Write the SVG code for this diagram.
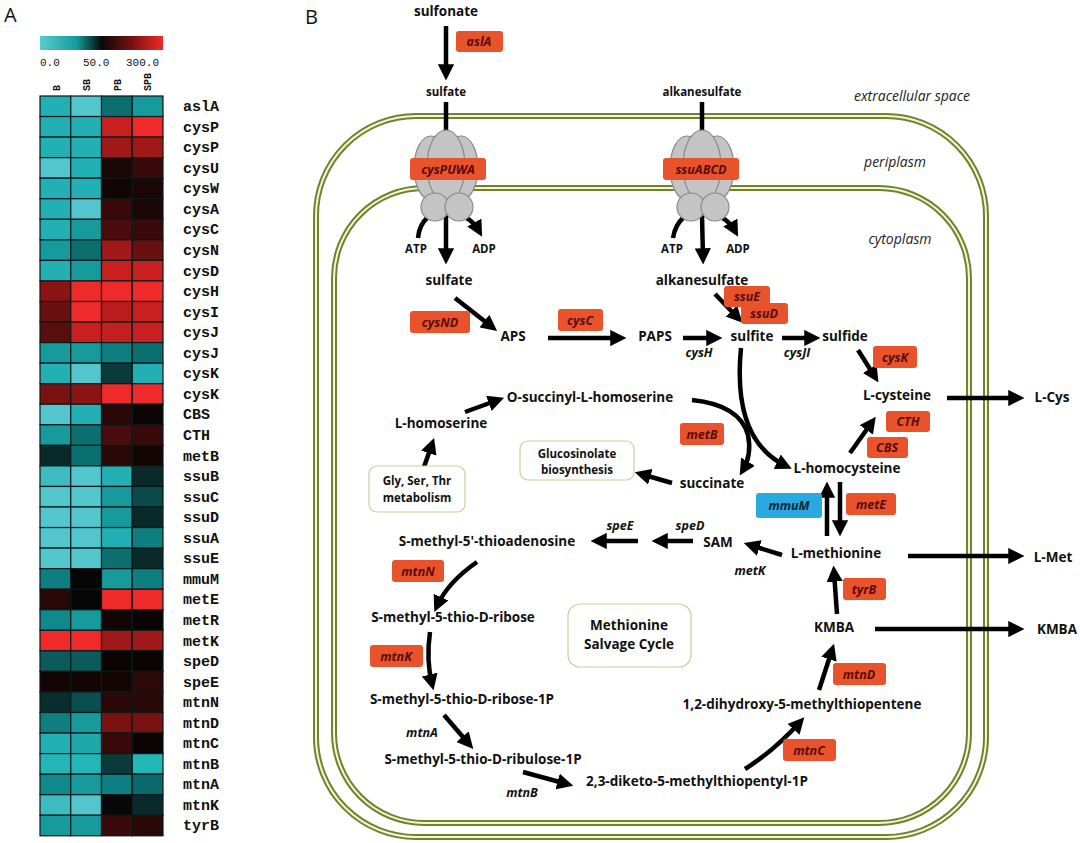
<svg xmlns="http://www.w3.org/2000/svg" width="1080" height="843" viewBox="0 0 1080 843">
<style>
text{font-family:"Open Sans","Liberation Sans",sans-serif;fill:#111}
.m{font-weight:bold;font-size:13.5px;text-anchor:middle}
.s{font-weight:bold;font-size:11.5px;text-anchor:middle}
.g{font-weight:bold;font-style:italic;font-size:12.5px;text-anchor:middle;fill:#5a0c0c}
.gi{font-weight:bold;font-style:italic;font-size:12.5px;text-anchor:middle}
.cmp{font-style:italic;font-size:14px;text-anchor:middle;fill:#222}
.gb{fill:#e8532b;rx:3}
.hl{font-family:"Liberation Mono","DejaVu Sans Mono",monospace;font-weight:bold;font-size:15px;fill:#111}
.cl{font-family:"Liberation Mono",monospace;font-size:11px;fill:#111}
.cc{font-family:"Liberation Mono",monospace;font-size:10px;font-weight:bold;fill:#111}
.a{stroke:#000;stroke-width:4.5;fill:none;marker-end:url(#ah)}
.box{fill:#fff;stroke:#c8cf9a;stroke-width:1.2}
.mo{fill:none;stroke:#6f8230;stroke-width:6}
.mi{fill:none;stroke:#f4f6cf;stroke-width:2}
.tp{fill:#c4c4c4;stroke:#8a8a8a;stroke-width:1.2}
</style>
<defs>
<marker id="ah" viewBox="0 0 10 10" refX="6" refY="5" markerWidth="3.6" markerHeight="3.6" orient="auto" markerUnits="strokeWidth"><path d="M0,0 L10,5 L0,10 z" fill="#000"/></marker>
<linearGradient id="cb" x1="0" x2="1"><stop offset="0" stop-color="#5acbd0"/><stop offset="0.3" stop-color="#139a9c"/><stop offset="0.5" stop-color="#0a0a0a"/><stop offset="0.75" stop-color="#7a1010"/><stop offset="1" stop-color="#f02a2a"/></linearGradient>
</defs>
<rect width="1080" height="843" fill="#fff"/>
<g id="panelA">
<text x="4" y="22" font-size="20">A</text>
<rect x="40" y="36" width="123" height="14" fill="url(#cb)"/>
<text class="cl" x="40" y="66">0.0</text><text class="cl" x="83" y="66">50.0</text><text class="cl" x="126" y="66">300.0</text>
<text class="cc" transform="translate(60,91) rotate(-90)">B</text>
<text class="cc" transform="translate(90,91) rotate(-90)">SB</text>
<text class="cc" transform="translate(121,91) rotate(-90)">PB</text>
<text class="cc" transform="translate(151,91) rotate(-90)">SPB</text>
<rect x="40" y="96" width="123" height="740" fill="#111"/>
</g>
<g id="hmrows" stroke="#0a1a1a" stroke-width="1.2">
<g transform="translate(0,96)"><rect x="40" width="30.75" height="20.55" fill="#22b0b4"/><rect x="70.75" width="30.75" height="20.55" fill="#52c6cc"/><rect x="101.5" width="30.75" height="20.55" fill="#0b6f70"/><rect x="132.25" width="30.75" height="20.55" fill="#169a9c"/></g>
<g transform="translate(0,116.55)"><rect x="40" width="30.75" height="20.55" fill="#22b0b4"/><rect x="70.75" width="30.75" height="20.55" fill="#22b0b4"/><rect x="101.5" width="30.75" height="20.55" fill="#c82020"/><rect x="132.25" width="30.75" height="20.55" fill="#ee2a2a"/></g>
<g transform="translate(0,137.1)"><rect x="40" width="30.75" height="20.55" fill="#22b0b4"/><rect x="70.75" width="30.75" height="20.55" fill="#22b0b4"/><rect x="101.5" width="30.75" height="20.55" fill="#a01818"/><rect x="132.25" width="30.75" height="20.55" fill="#a01818"/></g>
<g transform="translate(0,157.65)"><rect x="40" width="30.75" height="20.55" fill="#52c6cc"/><rect x="70.75" width="30.75" height="20.55" fill="#22b0b4"/><rect x="101.5" width="30.75" height="20.55" fill="#1a0606"/><rect x="132.25" width="30.75" height="20.55" fill="#3a0a0a"/></g>
<g transform="translate(0,178.2)"><rect x="40" width="30.75" height="20.55" fill="#22b0b4"/><rect x="70.75" width="30.75" height="20.55" fill="#22b0b4"/><rect x="101.5" width="30.75" height="20.55" fill="#140505"/><rect x="132.25" width="30.75" height="20.55" fill="#1a0606"/></g>
<g transform="translate(0,198.75)"><rect x="40" width="30.75" height="20.55" fill="#22b0b4"/><rect x="70.75" width="30.75" height="20.55" fill="#52c6cc"/><rect x="101.5" width="30.75" height="20.55" fill="#3a0a0a"/><rect x="132.25" width="30.75" height="20.55" fill="#1a0606"/></g>
<g transform="translate(0,219.3)"><rect x="40" width="30.75" height="20.55" fill="#22b0b4"/><rect x="70.75" width="30.75" height="20.55" fill="#169a9c"/><rect x="101.5" width="30.75" height="20.55" fill="#4a0c0c"/><rect x="132.25" width="30.75" height="20.55" fill="#3a0a0a"/></g>
<g transform="translate(0,239.85)"><rect x="40" width="30.75" height="20.55" fill="#169a9c"/><rect x="70.75" width="30.75" height="20.55" fill="#0b6f70"/><rect x="101.5" width="30.75" height="20.55" fill="#a01818"/><rect x="132.25" width="30.75" height="20.55" fill="#6a1010"/></g>
<g transform="translate(0,260.4)"><rect x="40" width="30.75" height="20.55" fill="#22b0b4"/><rect x="70.75" width="30.75" height="20.55" fill="#169a9c"/><rect x="101.5" width="30.75" height="20.55" fill="#c82020"/><rect x="132.25" width="30.75" height="20.55" fill="#c82020"/></g>
<g transform="translate(0,280.95)"><rect x="40" width="30.75" height="20.55" fill="#8a1414"/><rect x="70.75" width="30.75" height="20.55" fill="#ee2a2a"/><rect x="101.5" width="30.75" height="20.55" fill="#ee2a2a"/><rect x="132.25" width="30.75" height="20.55" fill="#ee2a2a"/></g>
<g transform="translate(0,301.5)"><rect x="40" width="30.75" height="20.55" fill="#6a1010"/><rect x="70.75" width="30.75" height="20.55" fill="#ee2a2a"/><rect x="101.5" width="30.75" height="20.55" fill="#b81c1c"/><rect x="132.25" width="30.75" height="20.55" fill="#c82020"/></g>
<g transform="translate(0,322.05)"><rect x="40" width="30.75" height="20.55" fill="#5a0e0e"/><rect x="70.75" width="30.75" height="20.55" fill="#c82020"/><rect x="101.5" width="30.75" height="20.55" fill="#c02020"/><rect x="132.25" width="30.75" height="20.55" fill="#c82020"/></g>
<g transform="translate(0,342.6)"><rect x="40" width="30.75" height="20.55" fill="#169a9c"/><rect x="70.75" width="30.75" height="20.55" fill="#169a9c"/><rect x="101.5" width="30.75" height="20.55" fill="#0e7e80"/><rect x="132.25" width="30.75" height="20.55" fill="#0b6f70"/></g>
<g transform="translate(0,363.15)"><rect x="40" width="30.75" height="20.55" fill="#22b0b4"/><rect x="70.75" width="30.75" height="20.55" fill="#52c6cc"/><rect x="101.5" width="30.75" height="20.55" fill="#0a3a3a"/><rect x="132.25" width="30.75" height="20.55" fill="#22b0b4"/></g>
<g transform="translate(0,383.7)"><rect x="40" width="30.75" height="20.55" fill="#7a1212"/><rect x="70.75" width="30.75" height="20.55" fill="#8a1414"/><rect x="101.5" width="30.75" height="20.55" fill="#ee2a2a"/><rect x="132.25" width="30.75" height="20.55" fill="#ee2a2a"/></g>
<g transform="translate(0,404.25)"><rect x="40" width="30.75" height="20.55" fill="#52c6cc"/><rect x="70.75" width="30.75" height="20.55" fill="#22b0b4"/><rect x="101.5" width="30.75" height="20.55" fill="#2a0808"/><rect x="132.25" width="30.75" height="20.55" fill="#100505"/></g>
<g transform="translate(0,424.8)"><rect x="40" width="30.75" height="20.55" fill="#169a9c"/><rect x="70.75" width="30.75" height="20.55" fill="#0b6f70"/><rect x="101.5" width="30.75" height="20.55" fill="#4a0c0c"/><rect x="132.25" width="30.75" height="20.55" fill="#3a0a0a"/></g>
<g transform="translate(0,445.35)"><rect x="40" width="30.75" height="20.55" fill="#0a2a2a"/><rect x="70.75" width="30.75" height="20.55" fill="#0b6f70"/><rect x="101.5" width="30.75" height="20.55" fill="#2a0808"/><rect x="132.25" width="30.75" height="20.55" fill="#140505"/></g>
<g transform="translate(0,465.9)"><rect x="40" width="30.75" height="20.55" fill="#3cbcc0"/><rect x="70.75" width="30.75" height="20.55" fill="#52c6cc"/><rect x="101.5" width="30.75" height="20.55" fill="#22b0b4"/><rect x="132.25" width="30.75" height="20.55" fill="#0a2a2a"/></g>
<g transform="translate(0,486.45)"><rect x="40" width="30.75" height="20.55" fill="#52c6cc"/><rect x="70.75" width="30.75" height="20.55" fill="#52c6cc"/><rect x="101.5" width="30.75" height="20.55" fill="#169a9c"/><rect x="132.25" width="30.75" height="20.55" fill="#0b4a4a"/></g>
<g transform="translate(0,507)"><rect x="40" width="30.75" height="20.55" fill="#52c6cc"/><rect x="70.75" width="30.75" height="20.55" fill="#52c6cc"/><rect x="101.5" width="30.75" height="20.55" fill="#169a9c"/><rect x="132.25" width="30.75" height="20.55" fill="#0a2a2a"/></g>
<g transform="translate(0,527.55)"><rect x="40" width="30.75" height="20.55" fill="#52c6cc"/><rect x="70.75" width="30.75" height="20.55" fill="#52c6cc"/><rect x="101.5" width="30.75" height="20.55" fill="#22b0b4"/><rect x="132.25" width="30.75" height="20.55" fill="#0e7e80"/></g>
<g transform="translate(0,548.1)"><rect x="40" width="30.75" height="20.55" fill="#52c6cc"/><rect x="70.75" width="30.75" height="20.55" fill="#52c6cc"/><rect x="101.5" width="30.75" height="20.55" fill="#0b6f70"/><rect x="132.25" width="30.75" height="20.55" fill="#0a2a2a"/></g>
<g transform="translate(0,568.65)"><rect x="40" width="30.75" height="20.55" fill="#0e7e80"/><rect x="70.75" width="30.75" height="20.55" fill="#050505"/><rect x="101.5" width="30.75" height="20.55" fill="#169a9c"/><rect x="132.25" width="30.75" height="20.55" fill="#0e7e80"/></g>
<g transform="translate(0,589.2)"><rect x="40" width="30.75" height="20.55" fill="#2a0808"/><rect x="70.75" width="30.75" height="20.55" fill="#050505"/><rect x="101.5" width="30.75" height="20.55" fill="#ee2a2a"/><rect x="132.25" width="30.75" height="20.55" fill="#ee2a2a"/></g>
<g transform="translate(0,609.75)"><rect x="40" width="30.75" height="20.55" fill="#0e8a8c"/><rect x="70.75" width="30.75" height="20.55" fill="#169a9c"/><rect x="101.5" width="30.75" height="20.55" fill="#140505"/><rect x="132.25" width="30.75" height="20.55" fill="#0c0404"/></g>
<g transform="translate(0,630.3)"><rect x="40" width="30.75" height="20.55" fill="#ee2a2a"/><rect x="70.75" width="30.75" height="20.55" fill="#ee2a2a"/><rect x="101.5" width="30.75" height="20.55" fill="#a01818"/><rect x="132.25" width="30.75" height="20.55" fill="#a01818"/></g>
<g transform="translate(0,650.85)"><rect x="40" width="30.75" height="20.55" fill="#0b5a5c"/><rect x="70.75" width="30.75" height="20.55" fill="#0b5a5c"/><rect x="101.5" width="30.75" height="20.55" fill="#0c0404"/><rect x="132.25" width="30.75" height="20.55" fill="#0c0404"/></g>
<g transform="translate(0,671.4)"><rect x="40" width="30.75" height="20.55" fill="#140505"/><rect x="70.75" width="30.75" height="20.55" fill="#140505"/><rect x="101.5" width="30.75" height="20.55" fill="#140505"/><rect x="132.25" width="30.75" height="20.55" fill="#2e0909"/></g>
<g transform="translate(0,691.95)"><rect x="40" width="30.75" height="20.55" fill="#0a2e2e"/><rect x="70.75" width="30.75" height="20.55" fill="#0b4e50"/><rect x="101.5" width="30.75" height="20.55" fill="#2a0808"/><rect x="132.25" width="30.75" height="20.55" fill="#2a0808"/></g>
<g transform="translate(0,712.5)"><rect x="40" width="30.75" height="20.55" fill="#0e7e80"/><rect x="70.75" width="30.75" height="20.55" fill="#169a9c"/><rect x="101.5" width="30.75" height="20.55" fill="#7a1212"/><rect x="132.25" width="30.75" height="20.55" fill="#7a1212"/></g>
<g transform="translate(0,733.05)"><rect x="40" width="30.75" height="20.55" fill="#22b0b4"/><rect x="70.75" width="30.75" height="20.55" fill="#1fa8aa"/><rect x="101.5" width="30.75" height="20.55" fill="#3a0a0a"/><rect x="132.25" width="30.75" height="20.55" fill="#0c0404"/></g>
<g transform="translate(0,753.6)"><rect x="40" width="30.75" height="20.55" fill="#22b6b8"/><rect x="70.75" width="30.75" height="20.55" fill="#22b6b8"/><rect x="101.5" width="30.75" height="20.55" fill="#0a3a3a"/><rect x="132.25" width="30.75" height="20.55" fill="#22b6b8"/></g>
<g transform="translate(0,774.15)"><rect x="40" width="30.75" height="20.55" fill="#0e8a8c"/><rect x="70.75" width="30.75" height="20.55" fill="#169a9c"/><rect x="101.5" width="30.75" height="20.55" fill="#0e7e80"/><rect x="132.25" width="30.75" height="20.55" fill="#0b6a6c"/></g>
<g transform="translate(0,794.7)"><rect x="40" width="30.75" height="20.55" fill="#3cbcc0"/><rect x="70.75" width="30.75" height="20.55" fill="#52c6cc"/><rect x="101.5" width="30.75" height="20.55" fill="#070707"/><rect x="132.25" width="30.75" height="20.55" fill="#0a2a2a"/></g>
<g transform="translate(0,815.25)"><rect x="40" width="30.75" height="20.55" fill="#169a9c"/><rect x="70.75" width="30.75" height="20.55" fill="#169a9c"/><rect x="101.5" width="30.75" height="20.55" fill="#3a0a0a"/><rect x="132.25" width="30.75" height="20.55" fill="#2a0808"/></g>
</g>
<g id="hmlabels">
<text class="hl" x="183" y="111">aslA</text><text class="hl" x="183" y="132">cysP</text><text class="hl" x="183" y="152">cysP</text><text class="hl" x="183" y="173">cysU</text><text class="hl" x="183" y="193">cysW</text><text class="hl" x="183" y="214">cysA</text><text class="hl" x="183" y="234">cysC</text><text class="hl" x="183" y="255">cysN</text><text class="hl" x="183" y="276">cysD</text><text class="hl" x="183" y="296">cysH</text><text class="hl" x="183" y="317">cysI</text><text class="hl" x="183" y="337">cysJ</text><text class="hl" x="183" y="358">cysJ</text><text class="hl" x="183" y="378">cysK</text><text class="hl" x="183" y="399">cysK</text><text class="hl" x="183" y="419">CBS</text><text class="hl" x="183" y="440">CTH</text><text class="hl" x="183" y="461">metB</text><text class="hl" x="183" y="481">ssuB</text><text class="hl" x="183" y="502">ssuC</text><text class="hl" x="183" y="522">ssuD</text><text class="hl" x="183" y="543">ssuA</text><text class="hl" x="183" y="563">ssuE</text><text class="hl" x="183" y="584">mmuM</text><text class="hl" x="183" y="604">metE</text><text class="hl" x="183" y="625">metR</text><text class="hl" x="183" y="646">metK</text><text class="hl" x="183" y="666">speD</text><text class="hl" x="183" y="687">speE</text><text class="hl" x="183" y="707">mtnN</text><text class="hl" x="183" y="728">mtnD</text><text class="hl" x="183" y="748">mtnC</text><text class="hl" x="183" y="769">mtnB</text><text class="hl" x="183" y="789">mtnA</text><text class="hl" x="183" y="810">mtnK</text><text class="hl" x="183" y="830">tyrB</text>
</g>
<text x="305" y="24" font-size="20">B</text>
<g id="membranes">
<rect class="mo" x="316" y="116" width="670" height="721" rx="100"/>
<rect class="mi" x="316" y="116" width="670" height="721" rx="100"/>
<rect class="mo" x="334" y="188" width="635" height="635" rx="90"/>
<rect class="mi" x="334" y="188" width="635" height="635" rx="90"/>
</g>
<text class="cmp" x="912" y="101">extracellular space</text>
<text class="cmp" x="895" y="167">periplasm</text>
<text class="cmp" x="900" y="244">cytoplasm</text>
<g id="connectors">
<line class="a" x1="446" y1="26" x2="446" y2="74"/>
<line x1="446" y1="102" x2="446" y2="135" stroke="#000" stroke-width="4.5"/>
<line x1="702" y1="102" x2="702" y2="135" stroke="#000" stroke-width="4.5"/>
<path d="M428,217 Q419,225 418,238" stroke="#000" stroke-width="4.5" fill="none"/>
<path class="a" d="M465,217 Q474,222 479,231"/>
<line class="a" x1="446" y1="215" x2="446" y2="258"/>
<path d="M684,217 Q675,225 673,238" stroke="#000" stroke-width="4.5" fill="none"/>
<path class="a" d="M721,217 Q730,222 735,231"/>
<line class="a" x1="702" y1="215" x2="703" y2="258"/>
<line class="a" x1="455" y1="298" x2="492" y2="327"/>
<line class="a" x1="548" y1="338" x2="620" y2="338"/>
<line class="a" x1="683" y1="338" x2="716" y2="338"/>
<line class="a" x1="715" y1="294" x2="738" y2="318"/>
<line class="a" x1="782" y1="338" x2="814" y2="338"/>
<line class="a" x1="858" y1="350" x2="875" y2="377"/>
<line class="a" x1="947" y1="398" x2="1018" y2="398"/>
<line class="a" x1="850" y1="453" x2="872" y2="422"/>
<path class="a" d="M741,348 Q732,440 786,466"/>
<path class="a" d="M692,400 Q740,405 748,435 Q752,455 743,470"/>
<line class="a" x1="672" y1="483" x2="641" y2="474"/>
<line class="a" x1="424" y1="467" x2="432" y2="444"/>
<line class="a" x1="465" y1="412" x2="498" y2="400"/>
<line class="a" x1="827" y1="536" x2="827" y2="488"/>
<line class="a" x1="840" y1="482" x2="840" y2="530"/>
<line class="a" x1="782" y1="555" x2="750" y2="545"/>
<line class="a" x1="908" y1="556" x2="1018" y2="556"/>
<line class="a" x1="693" y1="541" x2="658" y2="541"/>
<line class="a" x1="638" y1="541" x2="597" y2="541"/>
<path class="a" d="M477,562 Q448,582 437,606"/>
<path class="a" d="M430,632 Q426,660 432,684"/>
<line class="a" x1="444" y1="715" x2="469" y2="744"/>
<line class="a" x1="523" y1="772" x2="567" y2="784"/>
<path class="a" d="M745,769 Q775,750 800,722"/>
<line class="a" x1="819" y1="690" x2="832" y2="650"/>
<line class="a" x1="837" y1="614" x2="834" y2="572"/>
<line class="a" x1="875" y1="629" x2="1018" y2="629"/>
</g>
<g id="cysPUWA">
<ellipse class="tp" cx="431" cy="168" rx="17" ry="32"/><ellipse class="tp" cx="461" cy="168" rx="17" ry="32"/><ellipse class="tp" cx="446" cy="166" rx="19" ry="36"/>
<circle class="tp" cx="435" cy="207" r="14"/><circle class="tp" cx="459" cy="207" r="14"/>
<rect class="gb" x="410" y="158" width="76" height="22"/><text class="g" x="448" y="174">cysPUWA</text>
</g>
<g id="ssuABCD">
<ellipse class="tp" cx="687" cy="168" rx="17" ry="32"/><ellipse class="tp" cx="717" cy="168" rx="17" ry="32"/><ellipse class="tp" cx="702" cy="166" rx="19" ry="36"/>
<circle class="tp" cx="691" cy="207" r="14"/><circle class="tp" cx="715" cy="207" r="14"/>
<rect class="gb" x="663" y="158" width="76" height="22"/><text class="g" x="701" y="174">ssuABCD</text>
</g>
<g id="nodes">
<text class="m" x="446" y="16">sulfonate</text>
<text class="s" x="446" y="96">sulfate</text>
<text class="s" x="702" y="96">alkanesulfate</text>
<text class="s" x="416" y="253">ATP</text><text class="s" x="484" y="253">ADP</text>
<text class="s" x="672" y="253">ATP</text><text class="s" x="738" y="253">ADP</text>
<text class="m" x="449" y="285">sulfate</text>
<text class="m" x="702" y="285">alkanesulfate</text>
<text class="m" x="513" y="341">APS</text>
<text class="m" x="655" y="341">PAPS</text>
<text class="m" x="752" y="341">sulfite</text>
<text class="m" x="845" y="341">sulfide</text>
<text class="m" x="897" y="400">L-cysteine</text>
<text class="m" x="1052" y="402">L-Cys</text>
<text class="m" x="590" y="402">O-succinyl-L-homoserine</text>
<text class="m" x="441" y="428">L-homoserine</text>
<text class="m" x="847" y="473">L-homocysteine</text>
<text class="m" x="712" y="488">succinate</text>
<text class="m" x="718" y="547">SAM</text>
<text class="m" x="836" y="558">L-methionine</text>
<text class="m" x="1053" y="562">L-Met</text>
<text class="m" x="487" y="546">S-methyl-5'-thioadenosine</text>
<text class="m" x="453" y="622">S-methyl-5-thio-D-ribose</text>
<text class="m" x="462" y="704">S-methyl-5-thio-D-ribose-1P</text>
<text class="m" x="483" y="764">S-methyl-5-thio-D-ribulose-1P</text>
<text class="m" x="697" y="786">2,3-diketo-5-methylthiopentyl-1P</text>
<text class="m" x="802" y="709">1,2-dihydroxy-5-methylthiopentene</text>
<text class="m" x="834" y="632">KMBA</text>
<text class="m" x="1077" y="634" style="text-anchor:end">KMBA</text>
<g id="glybox"><rect class="box" x="369" y="466" width="96" height="46" rx="8"/><text class="s" x="417" y="485">Gly, Ser, Thr</text><text class="s" x="417" y="502">metabolism</text></g>
<g id="glucbox"><rect class="box" x="520" y="441" width="114" height="39" rx="8"/><text class="s" x="577" y="458">Glucosinolate</text><text class="s" x="577" y="474">biosynthesis</text></g>
<g id="msc"><rect class="box" x="568" y="604" width="123" height="63" rx="12"/><text class="m" x="629" y="630" font-size="14.5">Methionine</text><text class="m" x="629" y="649" font-size="14.5">Salvage Cycle</text></g>
</g>
<g id="genes">
<rect class="gb" x="456" y="31" width="47" height="21"/><text class="g" x="479" y="46">aslA</text>
<rect class="gb" x="410" y="311" width="60" height="22"/><text class="g" x="440" y="327">cysND</text>
<rect class="gb" x="558" y="309" width="45" height="22"/><text class="g" x="580" y="325">cysC</text>
<text class="gi" x="699" y="357">cysH</text>
<rect class="gb" x="724" y="286" width="46" height="21"/><text class="g" x="747" y="301">ssuE</text>
<rect class="gb" x="741" y="303" width="47" height="21"/><text class="g" x="764" y="318">ssuD</text>
<text class="gi" x="797" y="357">cysJI</text>
<rect class="gb" x="873" y="346" width="44" height="22"/><text class="g" x="895" y="362">cysK</text>
<rect class="gb" x="886" y="411" width="44" height="21"/><text class="g" x="908" y="426">CTH</text>
<rect class="gb" x="867" y="437" width="41" height="21"/><text class="g" x="887" y="452">CBS</text>
<rect class="gb" x="680" y="423" width="44" height="22"/><text class="g" x="702" y="439">metB</text>
<rect x="756" y="493" width="66" height="25" rx="3" fill="#2aa9e0"/><text class="g" x="789" y="510" style="fill:#0d2438">mmuM</text>
<rect class="gb" x="846" y="493" width="50" height="22"/><text class="g" x="871" y="509">metE</text>
<text class="gi" x="750" y="575">metK</text>
<text class="gi" x="690" y="530">speD</text>
<text class="gi" x="620" y="530">speE</text>
<rect class="gb" x="392" y="560" width="52" height="22"/><text class="g" x="418" y="576">mtnN</text>
<rect class="gb" x="370" y="645" width="53" height="22"/><text class="g" x="396" y="661">mtnK</text>
<text class="gi" x="422" y="737">mtnA</text>
<text class="gi" x="522" y="797">mtnB</text>
<rect class="gb" x="783" y="739" width="53" height="22"/><text class="g" x="809" y="755">mtnC</text>
<rect class="gb" x="833" y="663" width="53" height="22"/><text class="g" x="859" y="679">mtnD</text>
<rect class="gb" x="843" y="578" width="43" height="22"/><text class="g" x="864" y="594">tyrB</text>
</g>
</svg>
